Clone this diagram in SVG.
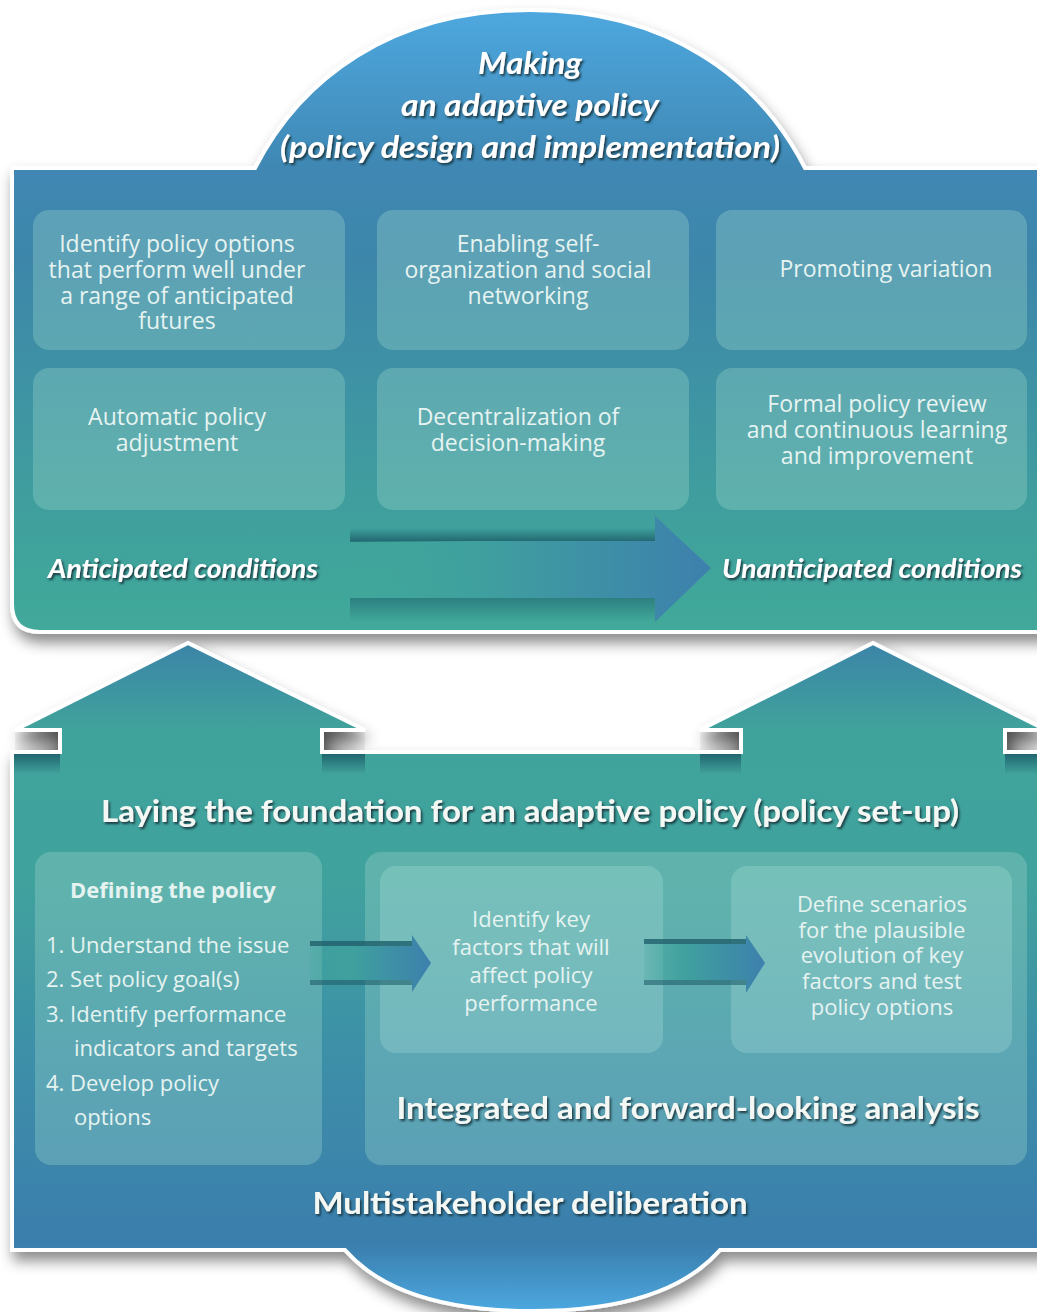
<svg xmlns="http://www.w3.org/2000/svg" width="1037" height="1312" viewBox="0 0 1037 1312">
<defs>
  <linearGradient id="gTop" gradientUnits="userSpaceOnUse" x1="0" y1="10" x2="0" y2="632">
    <stop offset="0" stop-color="#4ea8df"/>
    <stop offset="0.25" stop-color="#3f88b4"/>
    <stop offset="0.4" stop-color="#3e86aa"/>
    <stop offset="0.85" stop-color="#3fa29c"/>
    <stop offset="1" stop-color="#42a99a"/>
  </linearGradient>
  <linearGradient id="gBot" gradientUnits="userSpaceOnUse" x1="0" y1="643" x2="0" y2="1311">
    <stop offset="0" stop-color="#3b84a8"/>
    <stop offset="0.13" stop-color="#40a39b"/>
    <stop offset="0.35" stop-color="#40a29d"/>
    <stop offset="0.65" stop-color="#3d8da9"/>
    <stop offset="0.9" stop-color="#3a7ead"/>
    <stop offset="1" stop-color="#4ca8e0"/>
  </linearGradient>
  <linearGradient id="gArrowH" x1="0" y1="0" x2="1" y2="0">
    <stop offset="0" stop-color="#40a69a" stop-opacity="0.2"/>
    <stop offset="0.35" stop-color="#3fa09e"/>
    <stop offset="1" stop-color="#3d80ad"/>
  </linearGradient>
  <linearGradient id="gShadeDown" x1="0" y1="0" x2="0" y2="1">
    <stop offset="0" stop-color="#1d5f6a" stop-opacity="0.9"/>
    <stop offset="1" stop-color="#1d5f6a" stop-opacity="0"/>
  </linearGradient>
  <linearGradient id="gShadeUp" x1="0" y1="1" x2="0" y2="0">
    <stop offset="0" stop-color="#1d5f6a" stop-opacity="0.9"/>
    <stop offset="1" stop-color="#1d5f6a" stop-opacity="0"/>
  </linearGradient>
  <linearGradient id="gNotch" x1="0" y1="0" x2="1" y2="0">
    <stop offset="0" stop-color="#f2f2f2"/>
    <stop offset="1" stop-color="#8e8e8e"/>
  </linearGradient>
  <linearGradient id="gNotchR" x1="1" y1="0" x2="0" y2="0">
    <stop offset="0" stop-color="#f2f2f2"/>
    <stop offset="1" stop-color="#8e8e8e"/>
  </linearGradient>
  <filter id="panelShadow" x="-10%" y="-10%" width="120%" height="130%">
    <feDropShadow dx="3" dy="9" stdDeviation="7" flood-color="#000" flood-opacity="0.45"/>
  </filter>
  <filter id="txtShadow" x="-5%" y="-20%" width="110%" height="150%">
    <feDropShadow dx="1.6" dy="2" stdDeviation="0.9" flood-color="#12303c" flood-opacity="0.95"/>
  </filter>
  <style>
    .panel { stroke: #ffffff; stroke-width: 4; stroke-linejoin: miter; }
    .box { fill: #9fd8cc; fill-opacity: 0.33; }
    .boxIn { fill: #b4e4e0; fill-opacity: 0.28; }
    .t { font-family: "Open Sans", Lato, "Liberation Sans", sans-serif; fill: #e6f3f1; font-size: 22px; text-anchor: middle; }
    .tt { font-size: 23px; }
    .tl { font-family: "Open Sans", Lato, "Liberation Sans", sans-serif; fill: #e6f3f1; font-size: 22px; }
    .hi { font-family: Lato, "Open Sans", "Liberation Sans", sans-serif; fill: #ffffff; font-style: italic; font-weight: bold; text-anchor: middle; }
    .hb { font-family: Lato, "Open Sans", "Liberation Sans", sans-serif; fill: #f4f8f4; font-weight: bold; text-anchor: middle; }
  </style>
</defs>

<rect width="1037" height="1312" fill="#ffffff"/>

<!-- Top panel with dome -->
<g id="top-panel">
  <path class="panel" filter="url(#panelShadow)" fill="url(#gTop)" d="M12,168 L255,168 C300,80 390,10 530,10 C670,10 760,80 805,168 L1045,168 L1045,632 L40,632 Q12,632 12,604 Z"/>
  <text class="hi" filter="url(#txtShadow)" x="530" y="74" font-size="31" textLength="104" lengthAdjust="spacingAndGlyphs">Making</text>
  <text class="hi" filter="url(#txtShadow)" x="530" y="116" font-size="31" textLength="258" lengthAdjust="spacingAndGlyphs">an adaptive policy</text>
  <text class="hi" filter="url(#txtShadow)" x="530" y="158" font-size="31" textLength="500" lengthAdjust="spacingAndGlyphs">(policy design and implementation)</text>
</g>

<g id="box-identify-options">
  <rect class="box" x="33" y="210" width="312" height="140" rx="16"/>
  <text class="t tt" x="177" y="252">Identify policy options</text>
  <text class="t tt" x="177" y="278">that perform well under</text>
  <text class="t tt" x="177" y="304">a range of anticipated</text>
  <text class="t tt" x="177" y="329">futures</text>
</g>
<g id="box-self-organization">
  <rect class="box" x="377" y="210" width="312" height="140" rx="16"/>
  <text class="t tt" x="528" y="252">Enabling self-</text>
  <text class="t tt" x="528" y="278">organization and social</text>
  <text class="t tt" x="528" y="304">networking</text>
</g>
<g id="box-variation">
  <rect class="box" x="716" y="210" width="311" height="140" rx="16"/>
  <text class="t tt" x="886" y="277">Promoting variation</text>
</g>
<g id="box-automatic">
  <rect class="box" x="33" y="368" width="312" height="142" rx="16"/>
  <text class="t tt" x="177" y="425">Automatic policy</text>
  <text class="t tt" x="177" y="451">adjustment</text>
</g>
<g id="box-decentralization">
  <rect class="box" x="377" y="368" width="312" height="142" rx="16"/>
  <text class="t tt" x="518" y="425">Decentralization of</text>
  <text class="t tt" x="518" y="451">decision-making</text>
</g>
<g id="box-formal-review">
  <rect class="box" x="716" y="368" width="311" height="142" rx="16"/>
  <text class="t tt" x="877" y="412">Formal policy review</text>
  <text class="t tt" x="877" y="438">and continuous learning</text>
  <text class="t tt" x="877" y="464">and improvement</text>
</g>

<!-- Bottom panel with arrows and dome -->
<g id="bottom-panel">
  <rect x="15" y="731" width="45" height="22" fill="url(#gNotch)"/>
  <rect x="322" y="731" width="43" height="22" fill="url(#gNotchR)"/>
  <rect x="700" y="731" width="41" height="22" fill="url(#gNotch)"/>
  <rect x="1005" y="731" width="40" height="22" fill="url(#gNotchR)"/>
  <path class="panel" filter="url(#panelShadow)" fill="url(#gBot)" d="M12,752 L60,752 L60,730 L15,730 L188,643 L365,730 L322,730 L322,752 L741,752 L741,730 L700,730 L873,643 L1046,730 L1005,730 L1005,752 L1045,752 L1045,1250 L720,1250 C685,1290 625,1311 532,1311 C440,1311 380,1290 345,1250 L12,1250 Z"/>
  <rect x="14" y="754" width="46" height="20" fill="url(#gShadeDown)"/>
  <rect x="322" y="754" width="43" height="20" fill="url(#gShadeDown)"/>
  <rect x="700" y="754" width="41" height="20" fill="url(#gShadeDown)"/>
  <rect x="1005" y="754" width="32" height="20" fill="url(#gShadeDown)"/>
  <text class="hb" filter="url(#txtShadow)" x="530" y="822" font-size="30" textLength="858" lengthAdjust="spacingAndGlyphs">Laying the foundation for an adaptive policy (policy set-up)</text>
  <text class="hb" filter="url(#txtShadow)" x="530" y="1214" font-size="30" textLength="435" lengthAdjust="spacingAndGlyphs">Multistakeholder deliberation</text>
</g>

<g id="box-defining">
  <rect class="box" x="35" y="852" width="287" height="313" rx="16"/>
  <text class="tl" x="70" y="898" font-weight="bold" font-size="20.5">Defining the policy</text>
  <text class="tl" x="46" y="953">1. Understand the issue</text>
  <text class="tl" x="46" y="987">2. Set policy goal(s)</text>
  <text class="tl" x="46" y="1022">3. Identify performance</text>
  <text class="tl" x="74" y="1056">indicators and targets</text>
  <text class="tl" x="46" y="1091">4. Develop policy</text>
  <text class="tl" x="74" y="1125">options</text>
</g>

<g id="box-analysis">
  <rect class="box" x="365" y="852" width="662" height="313" rx="16"/>
  <text class="hb" filter="url(#txtShadow)" x="688" y="1119" font-size="30" textLength="583" lengthAdjust="spacingAndGlyphs">Integrated and forward-looking analysis</text>
</g>
<g id="box-key-factors">
  <rect class="boxIn" x="380" y="866" width="283" height="187" rx="16"/>
  <text class="t" x="531" y="927" font-size="25.5">Identify key</text>
  <text class="t" x="531" y="955" font-size="25.5">factors that will</text>
  <text class="t" x="531" y="983" font-size="25.5">affect policy</text>
  <text class="t" x="531" y="1011" font-size="25.5">performance</text>
</g>
<g id="box-scenarios">
  <rect class="boxIn" x="731" y="866" width="281" height="187" rx="16"/>
  <text class="t" x="882" y="912" font-size="22.5">Define scenarios</text>
  <text class="t" x="882" y="938" font-size="22.5">for the plausible</text>
  <text class="t" x="882" y="963" font-size="22.5">evolution of key</text>
  <text class="t" x="882" y="989" font-size="22.5">factors and test</text>
  <text class="t" x="882" y="1015" font-size="22.5">policy options</text>
</g>

<!-- Connectors -->
<g id="connectors">
  <!-- big horizontal arrow -->
  <rect x="350" y="528" width="305" height="14" fill="url(#gShadeUp)"/>
  <rect x="350" y="598" width="305" height="24" fill="url(#gShadeDown)" opacity="0.6"/>
  <path fill="url(#gArrowH)" d="M350,541 L655,541 L655,516 L711,568 L655,622 L655,598 L350,598 Z"/>
  <text class="hi" filter="url(#txtShadow)" x="183" y="578" font-size="27" textLength="270" lengthAdjust="spacingAndGlyphs">Anticipated conditions</text>
  <text class="hi" filter="url(#txtShadow)" x="872" y="578" font-size="27" textLength="300" lengthAdjust="spacingAndGlyphs">Unanticipated conditions</text>

  <!-- small arrow 1 -->
  <rect x="310" y="941" width="102" height="5" fill="#1f5f6a" opacity="0.8"/>
  <rect x="310" y="980" width="102" height="5" fill="#1f5f6a" opacity="0.6"/>
  <path fill="url(#gArrowH)" d="M310,946 L412,946 L412,935 L431,963 L412,992 L412,980 L310,980 Z"/>
  <!-- small arrow 2 -->
  <rect x="644" y="939" width="102" height="5" fill="#1f5f6a" opacity="0.8"/>
  <rect x="644" y="980" width="102" height="5" fill="#1f5f6a" opacity="0.6"/>
  <path fill="url(#gArrowH)" d="M644,944 L746,944 L746,935 L765,963 L746,993 L746,980 L644,980 Z"/>
</g>
</svg>
